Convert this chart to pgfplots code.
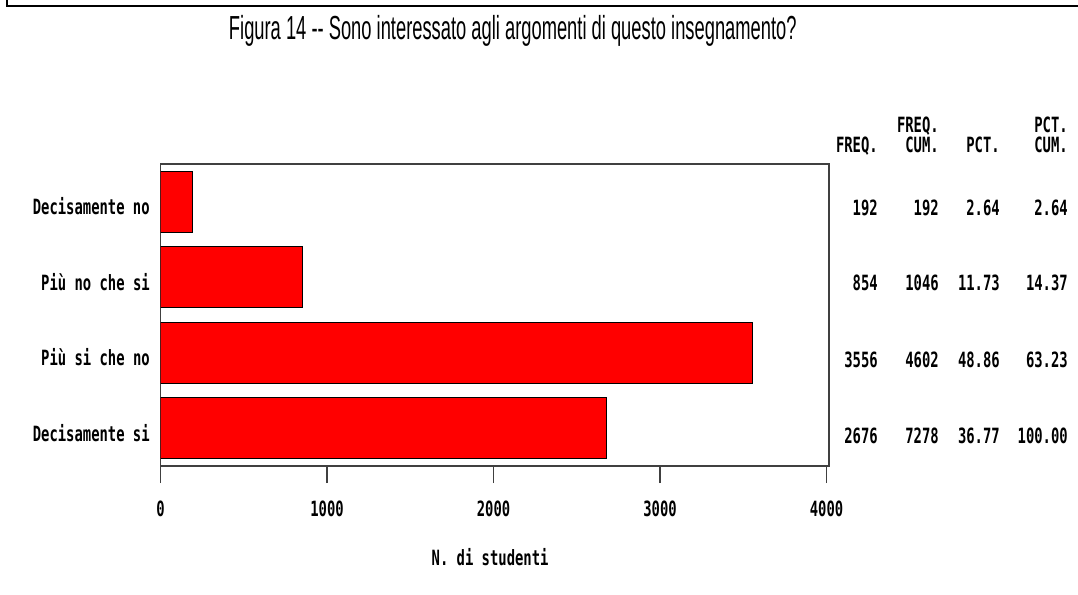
\documentclass[border=0pt]{standalone}
\usepackage{pgfplots}
\pgfplotsset{compat=1.18}
\usepackage{fontspec}
\setmainfont{DejaVu Sans Mono}[FakeStretch=0.66, UprightFont={* Bold}]
\newfontfamily\titlefont{Liberation Sans}[FakeStretch=0.55]
\definecolor{barred}{RGB}{255,0,0}
\begin{document}
\begin{tikzpicture}[x=0.75pt,y=0.75pt,font=\fontsize{15.75pt}{18pt}\selectfont]
\useasboundingbox (0,0) rectangle (1078,594);
\fill[white] (0,0) rectangle (1078,594);
\draw[line width=1.9pt] (7,594) -- (7,588) -- (1078,588);
\begin{axis}[
  at={(120.375pt,96pt)}, anchor=south west, scale only axis,
  width=501.4pt, height=226.5pt,
  xbar, bar width=45.75pt,
  xmin=0, xmax=4015, ymin=-0.5, ymax=3.5, y dir=reverse,
  xtick={0,1000,2000,3000,4000}, xticklabels={0,1000,2000,3000,4000},
  xtick pos=bottom, tick align=outside, major tick length=12.75pt,
  ytick={0,1,2,3},
  yticklabels={Decisamente no, Più no che si, Più si che no, Decisamente si},
  ytick style={draw=none},
  xtick style={line width=1pt, black!75},
  axis line style={line width=1pt, black!75},
  xticklabel style={anchor=base, inner sep=0pt, yshift=-24.75pt},
  yticklabel style={anchor=base east, inner sep=0pt, xshift=4.85pt, yshift=-9.75pt},
  title={Figura 14 -- Sono interessato agli argomenti di questo insegnamento?},
  title style={font=\titlefont\fontsize{25pt}{28pt}\selectfont, at={(axis description cs:0.527,1)}, anchor=base, yshift=87.75pt, inner sep=0pt},
  xlabel={N. di studenti},
  xlabel style={at={(axis description cs:0.493,0)}, anchor=base, yshift=-74.25pt, inner sep=0pt},
]
\addplot[fill=barred, draw=black, line width=0.8pt] coordinates {(192,0) (854,1) (3556,2) (2676,3)};
\end{axis}
\begin{scope}[every node/.style={anchor=base east, inner sep=0pt}]
\node at (939,461) {FREQ.};
\node at (1068,461) {PCT.};
\node at (878,441) {FREQ.};
\node at (939,441) {CUM.};
\node at (1000,441) {PCT.};
\node at (1068,441) {CUM.};
\node at (878,379) {192};  \node at (939,379) {192};  \node at (1000,379) {2.64};  \node at (1068,379) {2.64};
\node at (878,304) {854};  \node at (939,304) {1046}; \node at (1000,304) {11.73}; \node at (1068,304) {14.37};
\node at (878,227) {3556}; \node at (939,227) {4602}; \node at (1000,227) {48.86}; \node at (1068,227) {63.23};
\node at (878,151) {2676}; \node at (939,151) {7278}; \node at (1000,151) {36.77}; \node at (1068,151) {100.00};
\end{scope}
\end{tikzpicture}
\end{document}
